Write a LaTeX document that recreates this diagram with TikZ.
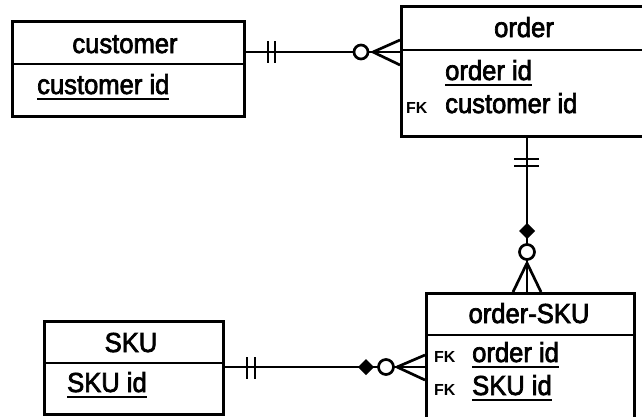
\documentclass[tikz,border=0pt]{standalone}
\usepackage{fontspec}
\setmainfont{Liberation Sans}
\newfontfamily\erfont{Liberation Sans}[FakeBold=2.5, FakeStretch=0.93]
\newfontfamily\fkfont{Liberation Sans Bold}
\usetikzlibrary{calc}
\newsavebox\ulbox
\newcommand\ulx[1]{\sbox\ulbox{#1}\rlap{\rule[-6.2pt]{\wd\ulbox}{2.6pt}}\usebox\ulbox}
\begin{document}
\begin{tikzpicture}[x=1pt,y=-1pt,
  ent/.style={draw, line width=2.9pt, anchor=north west, inner sep=0pt},
  ln/.style={line width=2.7pt},
  ttl/.style={font=\erfont\fontsize{27.5}{30}\selectfont, inner sep=0pt, anchor=base},
  att/.style={font=\erfont\fontsize{27.5}{30}\selectfont, inner sep=0pt, anchor=base west},
  fk/.style={font=\fkfont\fontsize{16}{18}\selectfont, inner sep=0pt, anchor=base west},
  bar/.style={line width=2.7pt},
  ring/.style={line width=2.7pt, fill=white},
  dia/.style={fill=black}]
\useasboundingbox (0,0) rectangle (642,416);
\fill[white] (0,0) rectangle (642,416);
\clip (0,0) rectangle (642,416);

% entity boxes
\node[ent, minimum width=232pt, minimum height=95pt] (customer) at (11,20) {};
\node[ent, minimum width=248pt, minimum height=130pt] (order) at (400,5) {};
\node[ent, minimum width=179pt, minimum height=93pt] (sku) at (43,320) {};
\node[ent, minimum width=208pt, minimum height=140pt] (osku) at (425,292) {};

% dividers
\draw[line width=2.9pt] (customer.west |- 0,64) -- (customer.east |- 0,64);
\draw[line width=2.9pt] (order.west |- 0,50) -- (order.east |- 0,50);
\draw[line width=2.9pt] (sku.west |- 0,363) -- (sku.east |- 0,363);
\draw[line width=2.9pt] (osku.west |- 0,335) -- (osku.east |- 0,335);

% texts
\node[ttl] (tcust) at (125,53) {customer};
\node[att] (acust) at (37,94) {\ulx{customer id}};
\node[ttl] (tord) at (524,37) {order};
\node[att] (aord1) at (445,80) {\ulx{order id}};
\node[fk] (fk1) at (406,113) {FK};
\node[att] (aord2) at (445,113) {customer id};
\node[ttl] (tsku) at (131,352) {SKU};
\node[att] (asku) at (67,392) {\ulx{SKU id}};
\node[ttl] (tosku) at (529,323) {order-SKU};
\node[fk] (fk2) at (434,362) {FK};
\node[att] (aosku1) at (472,362) {\ulx{order id}};
\node[fk] (fk3) at (434,395) {FK};
\node[att] (aosku2) at (472,395) {\ulx{SKU id}};

% connection points
\coordinate (c1) at (0,52);
\coordinate (c2) at (527,0);
\coordinate (c3) at (0,367);

% connectors
\draw[ln] (customer.east |- c1) -- (order.west |- c1);
\draw[ln] (order.south -| c2) -- (osku.north -| c2);
\draw[ln] (sku.east |- c3) -- (osku.west |- c3);

% customer -> order : one and only one / zero or many
\draw[bar] (268,41) -- (268,63);
\draw[bar] (275,41) -- (275,63);
\draw[ln] (373,52) -- (400,40);
\draw[ln] (373,52) -- (400,65);
\draw[ring] (361,52) circle[radius=7];

% order -> order-SKU
\draw[bar] (514,159) -- (539,159);
\draw[bar] (514,166) -- (539,166);
\draw[ln] (527,263) -- (513,292);
\draw[ln] (527,263) -- (541,292);
\fill[dia] (519,231) -- (527,223) -- (535,231) -- (527,239) -- cycle;
\draw[ring] (527,252) circle[radius=7.5];

% SKU -> order-SKU
\draw[bar] (247,357) -- (247,379);
\draw[bar] (255,357) -- (255,379);
\draw[ln] (397,367) -- (425,355);
\draw[ln] (397,367) -- (425,380);
\fill[dia] (358,367) -- (366,359) -- (374,367) -- (366,375) -- cycle;
\draw[ring] (386,367) circle[radius=7.5];
\end{tikzpicture}
\end{document}
